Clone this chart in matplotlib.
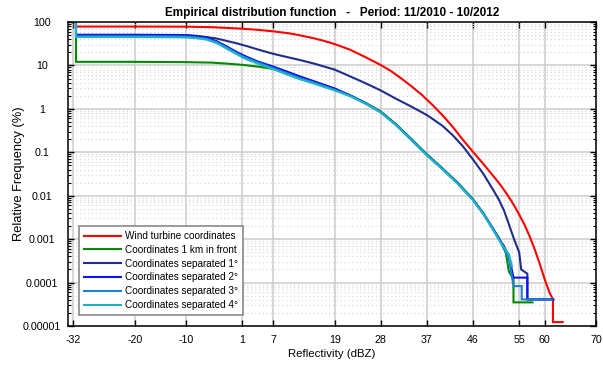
import numpy as np
import matplotlib
matplotlib.use("Agg")
import matplotlib.pyplot as plt
from matplotlib.ticker import FixedLocator, FixedFormatter, LogLocator, NullFormatter

plt.rcParams['font.family'] = ['Liberation Sans', 'DejaVu Sans']

# ---------------- data (relative frequency of exceedance, %) ----------------
labels = ["Wind turbine coordinates", "Coordinates 1 km in front",
          "Coordinates separated 1°", "Coordinates separated 2°",
          "Coordinates separated 3°", "Coordinates separated 4°"]
colors = ["#ff0000", "#008a00", "#1f2d8c", "#0a14f0", "#1f7fcf", "#1fb3c8"]

red_dbz = [-31.5, -31.5, -20, -10, -5, -2, 1, 4, 7, 10, 12, 15, 17, 19, 22, 25, 28, 30, 32, 34,
           36, 38, 40, 42, 44, 46, 48, 50, 51, 52, 53, 54, 55, 56, 57, 58, 59, 60, 61, 61.6, 61.6, 63.5]
red_pct = [100, 78.5, 78.5, 78, 76, 73, 70, 66, 61, 55, 50, 42, 36.5, 31, 23, 15.5, 10.2, 7.4, 5.0, 3.3,
           2.1, 1.26, 0.72, 0.39, 0.195, 0.102, 0.054, 0.028, 0.020, 0.0138, 0.0093, 0.0060, 0.0037,
           0.0022, 0.0012, 0.0006, 0.000275, 0.000117, 0.000056, 0.000041, 0.0000123, 0.0000123]

green_dbz = [-31.5, -31.5, -20, -10, -5, -2, 1, 4, 7, 9, 10, 12, 15, 19, 22, 25, 28, 31, 34, 37,
             40, 43, 46, 48, 50, 51, 52, 52.4, 53, 53.9, 53.9, 57.6]
green_pct = [100, 12.1, 12.1, 11.9, 11.6, 11.0, 10.3, 9.4, 8.3, 7.2, 6.3, 5.1, 4.0, 2.8, 2.05, 1.38,
             0.87, 0.44, 0.20, 0.09, 0.043, 0.020, 0.0083, 0.0040, 0.0016, 0.0011, 0.0006, 0.00049,
             0.00018, 0.00012, 0.000035, 0.000035]

sep1_dbz = [-31.5, -31.5, -20, -12, -10, -8, -6, -4, -2, 0, 2, 4, 7, 10, 12, 15, 19, 22, 25, 28,
            31, 34, 37, 40, 42, 44, 46, 48, 50, 51, 52, 53, 54, 55, 55.4, 56.6, 56.6, 61.5]
sep1_pct = [100, 50.5, 50.5, 50.3, 49.8, 48, 45, 41.5, 36.5, 32, 27.5, 23.3, 18.5, 15.3, 13.5, 11,
            8.0, 5.6, 3.9, 2.65, 1.7, 1.12, 0.72, 0.41, 0.25, 0.138, 0.068, 0.032, 0.0132, 0.0083,
            0.0047, 0.0022, 0.0010, 0.0005, 0.0002, 0.00016, 0.000041, 0.000041]

sep2_dbz = [-31.5, -31.5, -20, -12, -10, -8, -6, -4, -2, 0, 1, 2, 4, 7, 10, 12, 15, 19, 22, 25, 28,
            31, 34, 37, 40, 43, 46, 48, 50, 51, 52, 53, 53.9, 56.6, 56.6, 61.7]
sep2_pct = [100, 50.5, 50.5, 50, 49.5, 47, 43.5, 36, 27, 20, 17.5, 15.5, 12.3, 9.4, 7.0, 5.7, 4.3,
            2.95, 2.05, 1.35, 0.84, 0.43, 0.195, 0.087, 0.042, 0.0195, 0.0081, 0.0039, 0.0017,
            0.00105, 0.0007, 0.0004, 0.00013, 0.00013, 0.000041, 0.000041]

sep3_dbz = [-31.5, -31.5, -20, -12, -10, -8, -6, -4, -2, 0, 1, 2, 4, 7, 10, 12, 15, 19, 22, 25, 28,
            31, 34, 37, 40, 43, 46, 48, 50, 51, 52, 53, 53.9, 55.5, 55.5, 61.4]
sep3_pct = [100, 47, 47, 46.5, 46, 44, 41, 34, 25.5, 18.8, 16.3, 14.5, 11.7, 8.7, 6.4, 5.2, 4.0,
            2.75, 2.0, 1.33, 0.83, 0.42, 0.19, 0.086, 0.0415, 0.019, 0.008, 0.0038, 0.0016, 0.001,
            0.00065, 0.00035, 0.000083, 0.000083, 0.000041, 0.000041]

sep4_dbz = [-31.5, -31.5, -20, -12, -10, -8, -6, -4, -2, 0, 1, 2, 4, 7, 10, 12, 15, 19, 22, 25, 28,
            31, 34, 37, 40, 43, 46, 48, 50, 51, 52, 53, 53.6]
sep4_pct = [100, 45, 45, 44.5, 44, 42.3, 39.3, 32.5, 24, 17.8, 15.3, 13.5, 11, 8.2, 6.0, 4.9, 3.8,
            2.65, 1.95, 1.32, 0.83, 0.42, 0.19, 0.085, 0.041, 0.019, 0.0079, 0.0038, 0.0016,
            0.0010, 0.00063, 0.00045, 0.00024]

series_dbz = [red_dbz, green_dbz, sep1_dbz, sep2_dbz, sep3_dbz, sep4_dbz]
series_pct = [red_pct, green_pct, sep1_pct, sep2_pct, sep3_pct, sep4_pct]

x_ticks = [-32, -20, -10, 1, 7, 19, 28, 37, 46, 55, 60, 70]
x_ticklabels = ["-32", "-20", "-10", "1", "7", "19", "28", "37", "46", "55", "60", "70"]
y_ticks = [1e-5, 1e-4, 1e-3, 1e-2, 1e-1, 1, 10, 100]
y_ticklabels = ["0.00001", "0.0001", "0.001", "0.01", "0.1", "1", "10", "100"]

title = "Empirical distribution function   -   Period: 11/2010 - 10/2012"

# ---------------- figure ----------------
W, H = 603, 367
fig = plt.figure(figsize=(W / 100, H / 100), dpi=100)
L, R, T, B = 68.3, 596, 22, 326
ax = fig.add_axes([L / W, 1 - B / H, (R - L) / W, (B - T) / H])

for d, p, c, l in zip(series_dbz, series_pct, colors, labels):
    ax.plot(d, p, color=c, lw=1.5, label=l, solid_joinstyle='miter')

ax.set_yscale('log')
ax.set_xlim(-33, 70)
ax.set_ylim(1e-5, 100)

ax.xaxis.set_major_locator(FixedLocator(x_ticks))
ax.xaxis.set_major_formatter(FixedFormatter(x_ticklabels))
ax.yaxis.set_major_locator(FixedLocator(y_ticks))
ax.yaxis.set_major_formatter(FixedFormatter(y_ticklabels))
ax.yaxis.set_minor_locator(LogLocator(base=10, subs=np.arange(2, 10), numticks=20))
ax.yaxis.set_minor_formatter(NullFormatter())

ax.grid(True, which='major', color='#cccccc', lw=1.1, zorder=0)
ax.grid(True, which='minor', axis='y', color='#d4d4d4', lw=0.8, linestyle=(0, (1, 2.5)), zorder=0)
ax.set_axisbelow(True)

ax.tick_params(axis='x', which='major', direction='in', length=4, width=1,
               labelsize=7.7, top=True, pad=6.5)
ax.tick_params(axis='y', which='major', direction='in', length=4, width=1,
               labelsize=7.7, right=True, pad=(L - 42) * 0.72)
for t in ax.get_yticklabels():
    t.set_horizontalalignment('center')
ax.tick_params(axis='y', which='minor', direction='in', length=2.2, width=0.8, right=True, left=True)
ax.tick_params(axis='x', which='minor', bottom=False, top=False)

for s in ax.spines.values():
    s.set_linewidth(1.1)
    s.set_color('black')

ax.set_xlabel("Reflectivity (dBZ)", fontsize=8.2)
ax.xaxis.set_label_coords(0.5, -(349 - B) / (B - T))
ax.set_ylabel("Relative Frequency (%)", fontsize=9.3)
ax.yaxis.set_label_coords(-(L - 25) / (R - L), 0.5)
ax.set_title(title, fontsize=8.5, fontweight='bold', pad=4)

leg = ax.legend(loc='lower left', bbox_to_anchor=((79.3 - L) / (R - L), (B - 315) / (B - T)),
                borderaxespad=0, fontsize=7.2, handlelength=3.7, labelspacing=0.38,
                handletextpad=0.4, borderpad=0.5, fancybox=False, framealpha=1,
                edgecolor='#808080')
leg.get_frame().set_linewidth(1.1)

fig.savefig("out.png", dpi=100)
